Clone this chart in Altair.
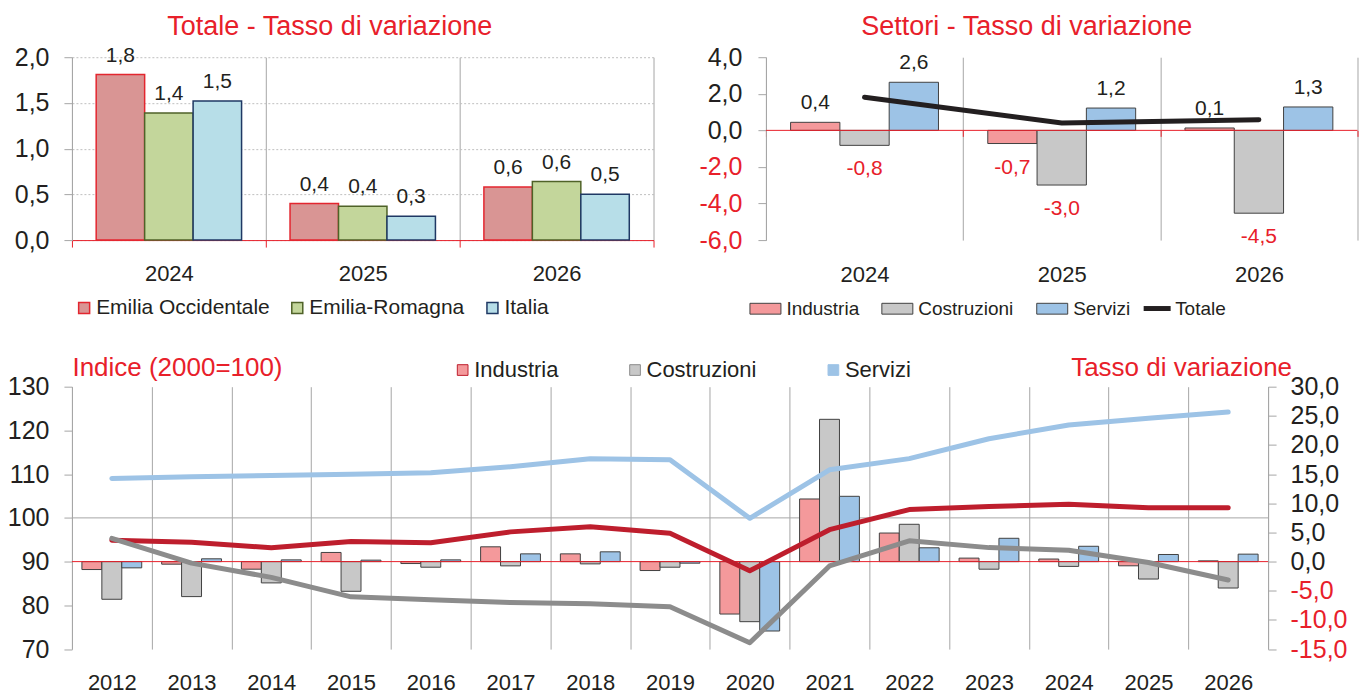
import altair as alt
import pandas as pd

FONT = "Liberation Sans"
BLACK = "#231F20"
RED = "#E8202A"
GRID = "#A6A6A6"
BAR_EDGE = "#404040"

# ---------------- Top-left: Totale - Tasso di variazione ----------------
anni_tot = ["2024", "2025", "2026"]
territori = ["Emilia Occidentale", "Emilia-Romagna", "Italia"]
emilia_occidentale = [1.81, 0.40, 0.58]
emilia_romagna = [1.39, 0.37, 0.64]
italia = [1.52, 0.26, 0.50]
fill_territori = ["#D99594", "#C3D69B", "#B7DEE8"]
stroke_territori = ["#E3262F", "#4F6228", "#1F3864"]

# ---------------- Top-right: Settori - Tasso di variazione ----------------
settori = ["Industria", "Costruzioni", "Servizi"]
industria_var = [0.44, -0.72, 0.13]
costruzioni_var = [-0.82, -2.99, -4.53]
servizi_var = [2.63, 1.22, 1.28]
totale_var = [1.81, 0.40, 0.58]
fill_settori = ["#F4999B", "#C8C8C8", "#9DC3E6"]

# ---------------- Bottom: indici e tassi di variazione ----------------
anni = ["2012", "2013", "2014", "2015", "2016", "2017", "2018", "2019",
        "2020", "2021", "2022", "2023", "2024", "2025", "2026"]
industria_tasso = [-1.36, -0.44, -1.30, 1.57, -0.33, 2.54, 1.33, -1.53,
                   -8.99, 10.74, 4.90, 0.60, 0.44, -0.72, 0.13]
costruzioni_tasso = [-6.46, -6.00, -3.65, -5.09, -0.96, -0.73, -0.39, -0.96,
                     -10.30, 24.40, 6.40, -1.30, -0.82, -2.99, -4.53]
servizi_tasso = [-1.07, 0.48, 0.30, 0.25, 0.30, 1.33, 1.68, -0.27,
                 -11.90, 11.20, 2.37, 4.00, 2.63, 1.22, 1.28]
industria_indice = [94.9, 94.45, 93.15, 94.6, 94.3, 96.8, 97.95, 96.5,
                    87.9, 97.3, 101.9, 102.6, 103.1, 102.3, 102.3]
costruzioni_indice = [95.3, 89.65, 86.4, 81.95, 81.3, 80.65, 80.35, 79.7,
                      71.45, 89.0, 94.75, 93.2, 92.6, 89.8, 85.8]
servizi_indice = [109.0, 109.4, 109.7, 110.0, 110.3, 111.7, 113.5, 113.3,
                  99.9, 111.0, 113.55, 118.1, 121.25, 122.8, 124.2]
line_colors = ["#BE1E2D", "#8C8C8C", "#9DC3E6"]

FMT1 = "(datum.value < 0 ? '-' : '') + replace(format(abs(datum.value), '.1f'), '.', ',')"
NEG_RED = {"condition": {"test": "datum.value < 0", "value": RED}, "value": BLACK}
# small square drawn inside a wider symbol cell (cell width = sqrt(size))
SQUARE = "M-0.5,-0.5H0.5V0.5H-0.5Z"
WIDE_RECT = "M-1,-0.35H1V0.35H-1Z"


def lab(v):
    s = f"{abs(v):.1f}".replace(".", ",")
    return ("-" + s) if v < 0 else s


# ======================= Top-left =======================
df_tl = pd.DataFrame({
    "anno": anni_tot * 3,
    "territorio": [t for t in territori for _ in anni_tot],
    "valore": emilia_occidentale + emilia_romagna + italia,
})
df_tl["etichetta"] = df_tl["valore"].map(lab)

x_tl = alt.X("anno:N", title=None,
             scale=alt.Scale(paddingInner=0, paddingOuter=0),
             axis=alt.Axis(tickBand="extent", grid=True, gridColor=GRID, gridWidth=1,
                           domainColor=RED, domainWidth=1, tickColor=RED, tickSize=7,
                           labelPadding=16, labelAngle=0, labelFontSize=22,
                           labelColor=BLACK))
xo_tl = alt.XOffset("territorio:N", sort=territori,
                    scale=alt.Scale(domain=territori, paddingInner=0, paddingOuter=0.5))
y_tl = alt.Y("valore:Q", title=None,
             scale=alt.Scale(domain=[0, 2], nice=False),
             axis=alt.Axis(values=[0, 0.5, 1, 1.5, 2], tickCount=20, labelExpr=FMT1,
                           grid=True, gridColor="#BFBFBF", gridDash=[2, 2],
                           domainColor=GRID, tickColor=GRID, tickSize=8,
                           labelPadding=15, labelFontSize=25, labelColor=BLACK,
                           labelOverlap=False))
leg_tl = alt.Legend(title=None, orient="none", legendX=0.2, legendY=239,
                    direction="horizontal", symbolType=SQUARE, symbolSize=484,
                    symbolStrokeWidth=1.5, labelFontSize=21, labelOffset=0,
                    columnPadding=15.3, labelColor=BLACK, padding=0, labelLimit=400)

bars_tl = alt.Chart(df_tl).mark_bar(strokeWidth=1.5).encode(
    x=x_tl, xOffset=xo_tl, y=y_tl,
    fill=alt.Fill("territorio:N", sort=territori,
                  scale=alt.Scale(domain=territori, range=fill_territori), legend=leg_tl),
    stroke=alt.Stroke("territorio:N", sort=territori,
                      scale=alt.Scale(domain=territori, range=stroke_territori), legend=leg_tl),
)
text_tl = alt.Chart(df_tl).mark_text(baseline="alphabetic", dy=-13, fontSize=21,
                                     color=BLACK).encode(
    x=x_tl, xOffset=xo_tl, y=y_tl, text="etichetta:N")

tl = alt.layer(bars_tl, text_tl).properties(
    width=582, height=183,
    title=alt.Title("Totale - Tasso di variazione", fontSize=27, color=RED,
                    fontWeight="normal", anchor="middle", dx=-33),
)

# ======================= Top-right =======================
df_tr = pd.DataFrame({
    "anno": anni_tot * 3,
    "settore": [s for s in settori for _ in anni_tot],
    "valore": industria_var + costruzioni_var + servizi_var,
})
df_tr["etichetta"] = df_tr["valore"].map(lab)
df_tot = pd.DataFrame({"anno": anni_tot, "valore": totale_var, "serie": ["Totale"] * 3})

TR_H = 183
TR_DOM = [-6, 4]
zero_from_bottom = TR_H * (0 - TR_DOM[0]) / (TR_DOM[1] - TR_DOM[0])

x_tr = alt.X("anno:N", title=None,
             scale=alt.Scale(paddingInner=0, paddingOuter=0),
             axis=alt.Axis(tickBand="extent", grid=True, gridColor=GRID, gridWidth=1,
                           domain=False, ticks=False, tickSize=0, labelPadding=24,
                           labelAngle=0, labelFontSize=22, labelColor=BLACK))
# second x axis sitting on the zero line: short red ticks at the category boundaries
x_tr_zero = alt.X("anno:N", title=None,
                  scale=alt.Scale(paddingInner=0, paddingOuter=0),
                  axis=alt.Axis(orient="bottom", offset=-zero_from_bottom,
                                tickBand="extent", grid=False, domain=False,
                                labels=False, ticks=True, tickColor=RED, tickSize=6))
xo_tr = alt.XOffset("settore:N", sort=settori,
                    scale=alt.Scale(domain=settori, paddingInner=0, paddingOuter=0.5))
y_tr = alt.Y("valore:Q", title=None,
             scale=alt.Scale(domain=TR_DOM, nice=False),
             axis=alt.Axis(values=[-6, -4, -2, 0, 2, 4], tickCount=20, labelExpr=FMT1,
                           labelColor=NEG_RED, grid=False, domainColor=GRID,
                           tickColor=GRID, tickSize=8, labelPadding=16,
                           labelFontSize=25, labelOverlap=False))
leg_tr = alt.Legend(title=None, orient="none", legendX=-16.5, legendY=235.7,
                    direction="horizontal", symbolType=WIDE_RECT,
                    symbolSize=961, symbolStrokeColor=BAR_EDGE, symbolStrokeWidth=1,
                    labelFontSize=19, labelOffset=5, columnPadding=20,
                    labelColor=BLACK, padding=0, labelLimit=400)
leg_tot = alt.Legend(title=None, orient="none", legendX=375.5, legendY=235.5,
                     symbolType="stroke", symbolSize=729, symbolStrokeWidth=5,
                     labelFontSize=19, labelOffset=2, labelColor=BLACK, padding=0,
                     labelLimit=400)

bars_tr = alt.Chart(df_tr).mark_bar(stroke=BAR_EDGE, strokeWidth=1).encode(
    x=x_tr, xOffset=xo_tr, y=y_tr,
    fill=alt.Fill("settore:N", sort=settori,
                  scale=alt.Scale(domain=settori, range=fill_settori), legend=leg_tr),
)
zero_tr = alt.Chart(pd.DataFrame({"valore": [0]})).mark_rule(
    color=RED, strokeWidth=1).encode(y=y_tr)
line_tr = alt.Chart(df_tot).mark_line(strokeWidth=5, strokeCap="round").encode(
    x=x_tr, y=y_tr,
    stroke=alt.Stroke("serie:N", scale=alt.Scale(domain=["Totale"], range=[BLACK]),
                      legend=leg_tot),
)
pos_tr = alt.Chart(df_tr).transform_filter("datum.valore >= 0").mark_text(
    baseline="alphabetic", dy=-13, fontSize=21, color=BLACK).encode(
    x=x_tr, xOffset=xo_tr, y=y_tr, text="etichetta:N")
neg_tr = alt.Chart(df_tr).transform_filter("datum.valore < 0").mark_text(
    baseline="alphabetic", dy=30, fontSize=21, color=RED).encode(
    x=x_tr, xOffset=xo_tr, y=y_tr, text="etichetta:N")
ticks_tr = alt.Chart(df_tot).mark_point(opacity=0).encode(x=x_tr_zero, y=y_tr)

tr = alt.layer(
    alt.layer(bars_tr, zero_tr, line_tr, pos_tr, neg_tr), ticks_tr
).resolve_axis(x="independent").properties(
    width=592, height=TR_H,
    title=alt.Title("Settori - Tasso di variazione", fontSize=27, color=RED,
                    fontWeight="normal", anchor="middle", dx=-35),
)

# ======================= Bottom =======================
df_b = pd.DataFrame({
    "anno": anni * 3,
    "settore": [s for s in settori for _ in anni],
    "tasso": industria_tasso + costruzioni_tasso + servizi_tasso,
})
df_l = pd.DataFrame({
    "anno": anni * 3,
    "settore": [s for s in settori for _ in anni],
    "indice": industria_indice + costruzioni_indice + servizi_indice,
})

x_b = alt.X("anno:N", title=None,
            scale=alt.Scale(paddingInner=0, paddingOuter=0),
            axis=alt.Axis(tickBand="extent", grid=True, gridColor=GRID, gridWidth=1,
                          domain=False, ticks=False, tickSize=0, labelPadding=23,
                          labelAngle=0, labelFontSize=22, labelColor=BLACK))
xo_b = alt.XOffset("settore:N", sort=settori,
                   scale=alt.Scale(domain=settori, paddingInner=0, paddingOuter=0.5))
leg_b = alt.Legend(title=None, orient="none", legendX=379.5, legendY=-28.4,
                   direction="horizontal", symbolType=SQUARE, symbolSize=458,
                   symbolStrokeColor=BAR_EDGE, symbolStrokeWidth=1, labelFontSize=22,
                   labelOffset=0, columnPadding=64.5, labelColor=BLACK, padding=0,
                   labelLimit=400)

rule100 = alt.Chart(pd.DataFrame({"cento": [100]})).mark_rule(
    color=GRID, strokeWidth=1).encode(
    y=alt.Y("cento:Q", scale=alt.Scale(domain=[70, 130], nice=False), axis=None))

y_rate = alt.Y("tasso:Q", title="Tasso di variazione",
               scale=alt.Scale(domain=[-15, 30], nice=False),
               axis=alt.Axis(orient="right", values=list(range(-15, 35, 5)), tickCount=20,
                             labelExpr=FMT1, labelColor=NEG_RED, domainColor=GRID,
                             tickColor=GRID, tickSize=8, labelPadding=14,
                             labelFontSize=25, labelOverlap=False, titleAngle=0,
                             titleAlign="right", titleBaseline="alphabetic",
                             titleX=23.5, titleY=-11.4, titleColor=RED,
                             titleFontSize=26, titleFontWeight="normal"))

bars_b = alt.Chart(df_b).mark_bar(stroke=BAR_EDGE, strokeWidth=1).encode(
    x=x_b, xOffset=xo_b, y=y_rate,
    fill=alt.Fill("settore:N", sort=settori,
                  scale=alt.Scale(domain=settori, range=fill_settori), legend=leg_b),
)
zero_b = alt.Chart(pd.DataFrame({"tasso": [0]})).mark_rule(
    color=RED, strokeWidth=1).encode(y=y_rate)

lines_b = alt.Chart(df_l).mark_line(strokeWidth=5, strokeCap="round",
                                    strokeJoin="round").encode(
    x=x_b,
    y=alt.Y("indice:Q", title="Indice (2000=100)",
            scale=alt.Scale(domain=[70, 130], nice=False),
            axis=alt.Axis(orient="left", values=list(range(70, 131, 10)), tickCount=20,
                          format="d", domainColor=GRID, tickColor=GRID, tickSize=8,
                          labelPadding=15, labelFontSize=25, labelColor=BLACK,
                          labelOverlap=False, titleAngle=0, titleAlign="left",
                          titleBaseline="alphabetic", titleX=0, titleY=-11.4,
                          titleColor=RED, titleFontSize=26, titleFontWeight="normal")),
    stroke=alt.Stroke("settore:N", sort=settori,
                      scale=alt.Scale(domain=settori, range=line_colors), legend=None),
)

bottom = alt.layer(rule100, alt.layer(bars_b, zero_b), lines_b).resolve_scale(
    y="independent").properties(width=1197, height=262.6)

top = alt.hconcat(tl, tr, spacing=112.5, bounds="flush").resolve_scale(
    xOffset="independent", fill="independent", stroke="independent")

# the nested row counts as zero height in a flush layout: spacing = row height + gap
chart = alt.vconcat(top, bottom, spacing=329.7, bounds="flush").resolve_scale(
    xOffset="independent", fill="independent", stroke="independent"
).properties(
    padding={"left": 7, "top": 12, "right": 5, "bottom": 5}
).configure(font=FONT).configure_view(stroke=None)

chart.save("out.html", embed_options={"renderer": "svg", "actions": False})
